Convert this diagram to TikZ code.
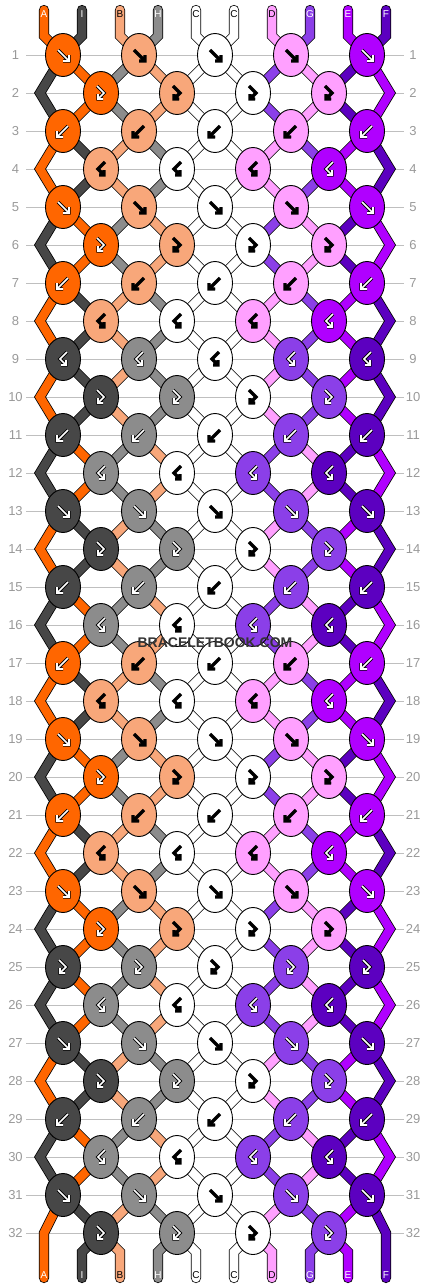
\documentclass[tikz,border=0pt]{standalone}
\usepackage{fontspec}
\setmainfont{Liberation Sans}
\usetikzlibrary{shapes.geometric}

% strand colours
\definecolor{sA}{HTML}{FF6600}
\definecolor{sI}{HTML}{474747}
\definecolor{sB}{HTML}{F8A77A}
\definecolor{sH}{HTML}{8C8C8C}
\definecolor{sC}{HTML}{FFFFFF}
\definecolor{sD}{HTML}{FFA0FF}
\definecolor{sG}{HTML}{8B3FE8}
\definecolor{sE}{HTML}{B000FF}
\definecolor{sF}{HTML}{5C00C0}
% arrow and letter colour on each strand
\colorlet{aA}{white}
\colorlet{aI}{white}
\colorlet{aB}{black}
\colorlet{aH}{white}
\colorlet{aC}{black}
\colorlet{aD}{black}
\colorlet{aG}{white}
\colorlet{aE}{white}
\colorlet{aF}{white}

% strand at position #2, order #1 (0: A I B H C C D G E F, 1: I A H B C C G D F E)
\newcommand\strandat[2]{\ifcase#1 \ifcase#2 A\or I\or B\or H\or C\or C\or D\or G\or E\or F\fi\else\ifcase#2 I\or A\or H\or B\or C\or C\or G\or D\or F\or E\fi\fi}
% knot kind per row: 1 f, 2 fb, 3 b, 4 bf
\def\kind{{1,2,3,4,1,2,3,4,4,2,3,4,1,2,3,4,3,4,1,2,3,4,1,2,2,4,1,2,3,4,1,2}}
% order before each row
\def\order{{0,1,1,0,0,1,1,0,0,0,0,1,1,0,0,1,1,0,0,1,1,0,0,1,1,1,1,0,0,1,1,0,0}}

\tikzset{
  fwd/.pic={\draw[pic actions] (-5,-5) -- (6,6) (6,0) -- (6,6) -- (0,6);},
  bwd/.pic={\draw[pic actions] (5,-5) -- (-6,6) (-6,0) -- (-6,6) -- (0,6);},
  fwdbwd/.pic={\draw[pic actions] (-4,-7) -- (3,0) -- (-3,6) (-3,1) -- (-3,6) -- (2,6);},
  bwdfwd/.pic={\draw[pic actions] (4,-7) -- (-3,0) -- (3,6) (3,1) -- (3,6) -- (-2,6);}
}

\begin{document}
\begin{tikzpicture}[x=1pt, y=-1pt,
  rule/.style={draw=black!25, line width=1pt},
  rownum/.style={text=black!40, font=\fontsize{13}{13}\selectfont, inner sep=0pt},
  strand/.style={draw=black, line width=0.8pt, double=#1, double distance=8.6pt},
  knot/.style={ellipse, draw=black, line width=0.9pt, fill=#1,
    minimum width=35pt, minimum height=43pt, inner sep=0pt},
  tag/.style={text=#1, font=\fontsize{10}{10}\selectfont, inner sep=0pt},
  arrowrim/.style={draw=black, line width=3.4pt},
  arrowcore/.style={draw=#1, line width=1.6pt}]
\useasboundingbox (0,0) rectangle (430,1288);

% rows
\foreach \rw in {1,...,32}{
  \pgfmathsetmacro\yy{55+38*(\rw-1)}
  \draw[rule] (26,\yy) -- (404,\yy);
  \node[rownum] (nl-\rw) at (15.5,\yy) {\rw};
  \node[rownum] (nr-\rw) at (413,\yy) {\rw};
}

% knot centres
\foreach \rw in {1,...,32}{
  \pgfmathsetmacro\yy{55+38*(\rw-1)}
  \ifodd\rw\relax
    \foreach \jj in {1,...,5}{\coordinate (c-\rw-\jj) at ({63+76*(\jj-1)},\yy);}
  \else
    \foreach \jj in {1,...,4}{\coordinate (c-\rw-\jj) at ({101+76*(\jj-1)},\yy);}
    \coordinate (c-\rw-L) at (40,\yy);
    \coordinate (c-\rw-R) at (390,\yy);
  \fi
}
\coordinate (c-32-L) at (44,1233);
\coordinate (c-32-R) at (386,1233);
\foreach \pp in {0,...,9}{
  \pgfmathsetmacro\xx{44+38*\pp}
  \coordinate (t-\pp) at (\xx,10);
  \coordinate (tt-\pp) at (\xx,36);
  \coordinate (bb-\pp) at (\xx,1252);
  \coordinate (b-\pp) at (\xx,1278);
}

% strands
\foreach \pp in {0,...,9}{
  \edef\sn{\strandat{0}{\pp}}
  \pgfmathtruncatemacro\ja{int(\pp/2)+1}
  \draw[strand=s\sn, line cap=round] (t-\pp) -- (tt-\pp) -- (c-1-\ja);
}
\foreach \rw in {1,...,31}{
  \pgfmathtruncatemacro\st{\order[\rw]}
  \pgfmathtruncatemacro\nx{\rw+1}
  \foreach \pp in {1,...,8}{
    \ifodd\rw\relax
      \pgfmathtruncatemacro\ja{int(\pp/2)+1}
      \pgfmathtruncatemacro\jb{int((\pp-1)/2)+1}
    \else
      \pgfmathtruncatemacro\ja{int((\pp-1)/2)+1}
      \pgfmathtruncatemacro\jb{int(\pp/2)+1}
    \fi
    \edef\sn{\strandat{\st}{\pp}}
    \draw[strand=s\sn] (c-\rw-\ja) -- (c-\nx-\jb);
  }
}
\foreach \rw in {2,4,...,30}{
  \pgfmathtruncatemacro\st{\order[\rw-1]}
  \pgfmathtruncatemacro\pv{\rw-1}
  \pgfmathtruncatemacro\nx{\rw+1}
  \edef\sn{\strandat{\st}{0}}
  \draw[strand=s\sn] (c-\pv-1) -- (c-\rw-L) -- (c-\nx-1);
  \edef\sn{\strandat{\st}{9}}
  \draw[strand=s\sn] (c-\pv-5) -- (c-\rw-R) -- (c-\nx-5);
}
\draw[strand=sA, line cap=round] (c-31-1) -- (c-32-L) -- (b-0);
\draw[strand=sF, line cap=round] (c-31-5) -- (c-32-R) -- (b-9);
\foreach \pp in {1,...,8}{
  \edef\sn{\strandat{0}{\pp}}
  \pgfmathtruncatemacro\ja{int((\pp-1)/2)+1}
  \draw[strand=s\sn, line cap=round] (c-32-\ja) -- (bb-\pp) -- (b-\pp);
}

% knots
\foreach \rw in {1,...,32}{
  \pgfmathtruncatemacro\tp{\kind[\rw-1]}
  \pgfmathtruncatemacro\st{\order[\rw-1]}
  \ifodd\rw\relax\def\jmax{5}\def\sh{0}\else\def\jmax{4}\def\sh{1}\fi
  \foreach \jj in {1,...,\jmax}{
    \pgfmathtruncatemacro\cp{2*(\jj-1)+\sh+(\tp>2)}
    \edef\sn{\strandat{\st}{\cp}}
    \node[knot=s\sn] (k-\rw-\jj) at (c-\rw-\jj) {};
    \ifcase\tp\relax\or
      \pic[arrowrim] at (k-\rw-\jj) {fwd};
      \pic[arrowcore=a\sn] at (k-\rw-\jj) {fwd};
    \or
      \pic[arrowrim] at (k-\rw-\jj) {fwdbwd};
      \pic[arrowcore=a\sn] at (k-\rw-\jj) {fwdbwd};
    \or
      \pic[arrowrim] at (k-\rw-\jj) {bwd};
      \pic[arrowcore=a\sn] at (k-\rw-\jj) {bwd};
    \or
      \pic[arrowrim] at (k-\rw-\jj) {bwdfwd};
      \pic[arrowcore=a\sn] at (k-\rw-\jj) {bwdfwd};
    \fi
  }
}

% letters
\foreach \pp in {0,...,9}{
  \edef\sn{\strandat{0}{\pp}}
  \pgfmathsetmacro\xx{44+38*\pp}
  \node[tag=a\sn] (lt-\pp) at (\xx,14) {\sn};
  \node[tag=a\sn] (lb-\pp) at (\xx,1275) {\sn};
}

\node[text=black!80, font=\bfseries\fontsize{14}{14}\selectfont] (wm) at (215,643) {BRACELETBOOK.COM};
\end{tikzpicture}
\end{document}
